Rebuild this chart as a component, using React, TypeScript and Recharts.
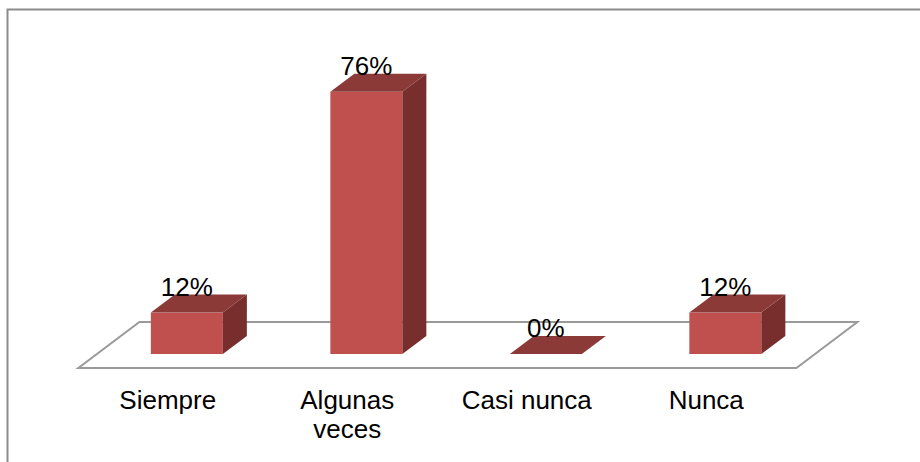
import React from 'react';
import { BarChart, Bar, XAxis, YAxis, LabelList, Customized } from 'recharts';

const categories = ['Siempre', 'Algunas veces', 'Casi nunca', 'Nunca'];
const values = [12, 76, 0, 12];
const valueLabels = ['12%', '76%', '0%', '12%'];
const tickLines: string[][] = [['Siempre'], ['Algunas', 'veces'], ['Casi nunca'], ['Nunca']];

const data = categories.map((name, i) => ({ name, value: values[i], label: valueLabels[i] }));

const W = 920;
const H = 462;
const MARGIN = { top: 78, right: 105, bottom: 48, left: 97 };
const AXIS_H = 60;
const FONT = '"Liberation Sans", Arial, sans-serif';

const FRONT = '#C0504D';
const TOP = '#8C3A38';
const SIDE = '#772E2C';
const FLOOR = '#9A9A9A';

// bar depth
const DX = 24;
const DY = 18;

const Bar3D = (props: any) => {
  const { x, y, width, height } = props;
  const h = Math.max(0, height);
  return (
    <g>
      {h > 0 && <rect x={x} y={y} width={width} height={h} fill={FRONT} />}
      {h > 0 && (
        <polygon
          points={`${x + width},${y} ${x + width + DX},${y - DY} ${x + width + DX},${y + h - DY} ${x + width},${y + h}`}
          fill={SIDE}
        />
      )}
      <polygon
        points={`${x},${y} ${x + DX},${y - DY} ${x + width + DX},${y - DY} ${x + width},${y}`}
        fill={TOP}
      />
    </g>
  );
};

const Floor = () => {
  const left = MARGIN.left;
  const right = W - MARGIN.right;
  const base = H - MARGIN.bottom - AXIS_H;
  // floor runs 14px in front of the bars and 32px behind them
  const fy = base + 14;
  const by = base - 32;
  const fx = -18.6;
  const bx = 42.4;
  return (
    <g>
      <path d={`M7.5,${H} L7.5,9.5 L${W},9.5`} fill="none" stroke="#8C8C8C" strokeWidth={2} />
      <polygon
        points={`${left + fx},${fy} ${right + fx},${fy} ${right + bx},${by} ${left + bx},${by}`}
        fill="none"
        stroke={FLOOR}
        strokeWidth={2}
      />
    </g>
  );
};

const CategoryTick = (props: any) => {
  const { x, y, index } = props;
  const lines = tickLines[index] || [];
  return (
    <text x={x - 19} y={y + 55} textAnchor="middle" fontFamily={FONT} fontSize={26} fill="#000">
      {lines.map((l, i) => (
        <tspan key={i} x={x - 19} dy={i === 0 ? 0 : 29}>
          {l}
        </tspan>
      ))}
    </text>
  );
};

const ValueLabel = (props: any) => {
  const { x, y, width, value } = props;
  return (
    <text x={x + width / 2} y={y - 17} textAnchor="middle" fontFamily={FONT} fontSize={26} fill="#000">
      {value}
    </text>
  );
};

export default function App() {
  return (
    <div style={{ position: 'absolute', left: 0, top: 0, width: W, height: H, background: '#fff' }}>
      <BarChart width={W} height={H} data={data} margin={MARGIN} barCategoryGap="30%">
        <Customized component={<Floor />} />
        <XAxis
          dataKey="name"
          height={AXIS_H}
          axisLine={false}
          tickLine={false}
          tickSize={0}
          tickMargin={0}
          interval={0}
          tick={<CategoryTick />}
        />
        <YAxis hide width={0} domain={[0, 80]} />
        <Bar dataKey="value" shape={<Bar3D />} isAnimationActive={false}>
          <LabelList dataKey="label" content={<ValueLabel />} />
        </Bar>
      </BarChart>
    </div>
  );
}
